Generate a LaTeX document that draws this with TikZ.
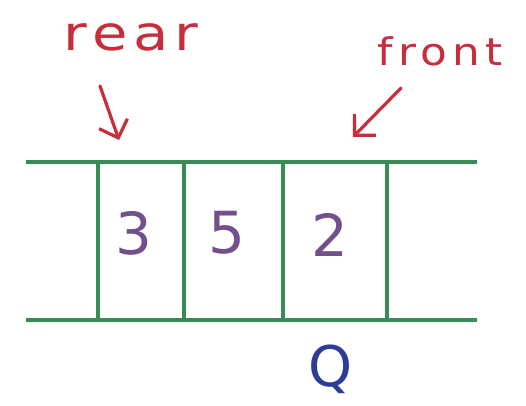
\documentclass[tikz,border=0pt]{standalone}
\usepackage{fontspec}
\setmainfont{DejaVu Sans}
\usetikzlibrary{arrows.meta}
\definecolor{hred}{RGB}{200,45,60}
\definecolor{hgreen}{RGB}{55,140,85}
\definecolor{hpurple}{RGB}{115,80,140}
\definecolor{hblue}{RGB}{45,60,150}
\begin{document}
\begin{tikzpicture}[x=1pt,y=-1pt,
  wall/.style={hgreen, line width=3.6pt},
  lbl/.style={hred, anchor=base, inner sep=0pt},
  val/.style={hpurple, anchor=base, inner sep=0pt, font=\fontsize{58}{60}\selectfont},
  ptr/.style={hred, line width=3.2pt, line cap=round, line join=round,
    -{Straight Barb[length=15pt,width=30pt]}}
]
\useasboundingbox[fill=white] (0,0) rectangle (526,405);
% rails and walls
\coordinate (tl) at (26,162); \coordinate (tr) at (477,162);
\coordinate (bl) at (26,320); \coordinate (br) at (477,320);
\draw[wall] (tl) -- (tr);
\draw[wall] (bl) -- (br);
\foreach \x/\n in {98/w1,184/w2,283/w3,387/w4}{
  \coordinate (\n t) at (\x,162); \coordinate (\n b) at (\x,320);
  \draw[wall] (\n t) -- (\n b);
}
% values
\node[val] (v3) at (134,254) {3};
\node[val] (v5) at (227,253) {5};
\node[val] (v2) at (330,256) {2};
\node[hblue, anchor=base, inner sep=0pt, font=\fontsize{56}{60}\selectfont] (q) at (331,386) {Q};
% labels
\node[lbl, font=\fontsize{48}{50}\addfontfeature{LetterSpace=10}\selectfont, xscale=1.2] (rear) at (131,50) {rear};
\node[lbl, font=\fontsize{38}{40}\addfontfeature{LetterSpace=12}\selectfont, xscale=1.15] (front) at (440,65) {front};
% pointers
\coordinate (rs) at (100,86); \coordinate (re) at (119,140);
\coordinate (fs) at (401,88); \coordinate (fe) at (353,137);
\draw[ptr] (rs) -- (re);
\draw[ptr] (fs) -- (fe);
\end{tikzpicture}
\end{document}
